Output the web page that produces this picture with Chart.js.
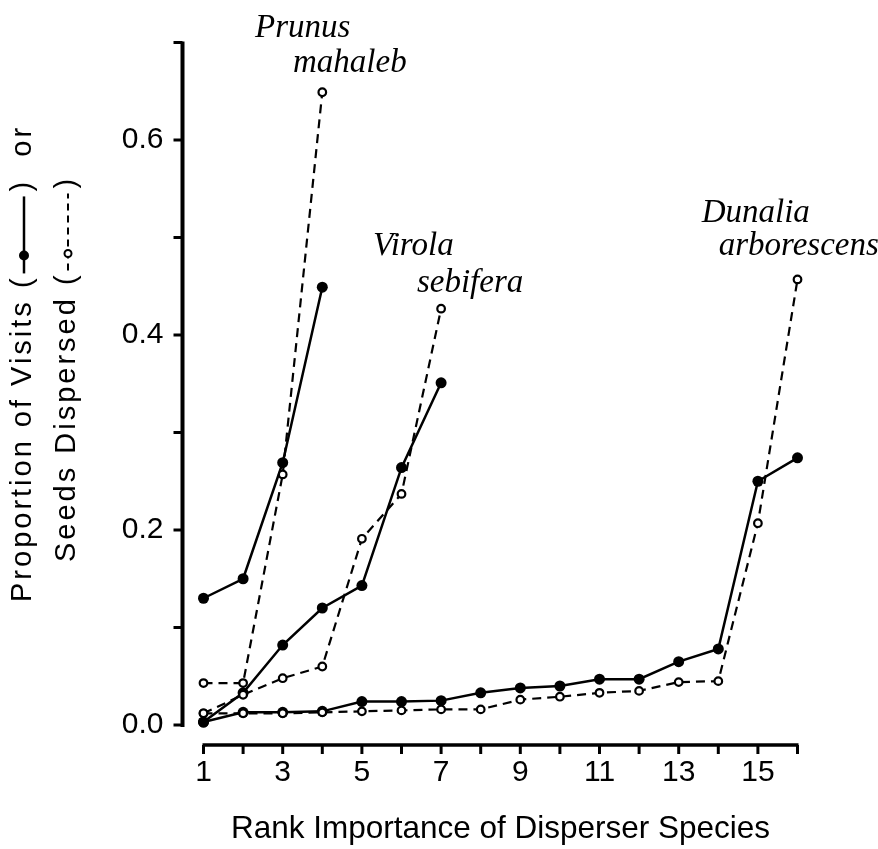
<!DOCTYPE html>
<html>
<head>
<meta charset="utf-8">
<script src="https://cdn.jsdelivr.net/npm/chart.js@4.4.1/dist/chart.umd.min.js"></script>
<style>
html,body{margin:0;padding:0;background:#fff;}
#wrap{width:878px;height:849px;}
</style>
</head>
<body>
<div id="wrap"><canvas id="chart" width="878" height="849"></canvas></div>
<script>
// rank of disperser species (x)
const rankX = [1,2,3,4,5,6,7,8,9,10,11,12,13,14,15,16];

// proportion of visits (solid) and of seeds dispersed (dashed), by species
const prunusVisits  = [0.130, 0.150, 0.269, 0.449];
const prunusSeeds   = [0.043, 0.043, 0.257, 0.649];
const virolaVisits  = [0.003, 0.033, 0.082, 0.120, 0.143, 0.264, 0.351];
const virolaSeeds   = [0.012, 0.031, 0.048, 0.060, 0.191, 0.237, 0.427];
const dunaliaVisits = [0.003, 0.013, 0.013, 0.014, 0.024, 0.024, 0.025, 0.033, 0.038, 0.040, 0.047, 0.047, 0.065, 0.078, 0.250, 0.274];
const dunaliaSeeds  = [0.012, 0.012, 0.012, 0.013, 0.014, 0.015, 0.016, 0.016, 0.026, 0.029, 0.033, 0.035, 0.044, 0.045, 0.207, 0.457];

// species names and where they sit, in data units (left edge, baseline)
const speciesLines = ["Prunus", "mahaleb", "Virola", "sebifera", "Dunalia", "arborescens"];
const speciesX     = [2.30, 3.26, 5.28, 6.39, 13.58, 14.01];
const speciesY     = [0.706, 0.670, 0.482, 0.444, 0.516, 0.482];

const SANS = '"Liberation Sans", Arial, Helvetica, sans-serif';
const SERIF = '"Liberation Serif", "Times New Roman", serif';

const toPts = ys => ys.map((y,i)=>({x: rankX[i], y: y}));

function solidSet(vals){
    return {
        data: toPts(vals),
        borderColor:"#000",
        borderWidth:2.5,
        pointRadius:5.5,
        pointBackgroundColor:"#000",
        pointBorderColor:"#000",
        pointBorderWidth:0,
        tension:0,
        clip:false,
        order:2
    };
}
function dashedSet(vals){
    return {
        data: toPts(vals),
        borderColor:"#000",
        borderWidth:2.2,
        borderDash:[9,6],
        pointRadius:3.8,
        pointBackgroundColor:"#fff",
        pointBorderColor:"#000",
        pointBorderWidth:2.2,
        tension:0,
        clip:false,
        order:1
    };
}

// axis lines sit a little away from the plot, as in the printed figure
const axesPlugin = {
    id:"axes",
    beforeDatasetsDraw(chart){
        const {ctx, scales:{x, y}} = chart;
        const ax = x.getPixelForValue(1) - 21;
        const ay = y.getPixelForValue(0) + 20;
        ctx.save();
        ctx.strokeStyle = "#000";
        ctx.lineCap = "butt";
        ctx.lineWidth = 4;
        ctx.beginPath();
        ctx.moveTo(ax, y.getPixelForValue(0.7) - 1);
        ctx.lineTo(ax, y.getPixelForValue(0) + 2);
        ctx.stroke();
        ctx.lineWidth = 3;
        y.ticks.forEach(t=>{
            const py = y.getPixelForValue(t.value);
            ctx.beginPath();
            ctx.moveTo(ax, py);
            ctx.lineTo(ax - 9, py);
            ctx.stroke();
        });
        ctx.lineWidth = 3.5;
        ctx.beginPath();
        ctx.moveTo(x.getPixelForValue(1) - 1, ay);
        ctx.lineTo(x.getPixelForValue(16) + 1, ay);
        ctx.stroke();
        ctx.lineWidth = 3;
        x.ticks.forEach(t=>{
            const px = x.getPixelForValue(t.value);
            ctx.beginPath();
            ctx.moveTo(px, ay);
            ctx.lineTo(px, ay + 9);
            ctx.stroke();
        });
        ctx.restore();
    }
};

function drawTitleLine(ctx, cx, startY, parts){
    ctx.save();
    ctx.translate(cx, startY);
    ctx.rotate(-Math.PI/2);
    ctx.font = "29px " + SANS;
    ctx.letterSpacing = "3px";
    ctx.fillStyle = "#000";
    ctx.strokeStyle = "#000";
    ctx.textBaseline = "middle";
    ctx.textAlign = "left";
    let u = 0;
    parts.forEach(p=>{
        if(typeof p === "string"){
            ctx.fillText(p, u, 0);
            u += ctx.measureText(p).width;
            return;
        }
        const v = 1;
        if(p.kind === "solid"){
            ctx.lineWidth = 2.5;
            ctx.setLineDash([]);
            ctx.beginPath();
            ctx.moveTo(u + 2, v);
            ctx.lineTo(u + 79, v);
            ctx.stroke();
            ctx.beginPath();
            ctx.arc(u + 20, v, 5, 0, Math.PI*2);
            ctx.fill();
        }else{
            ctx.lineWidth = 2;
            ctx.setLineDash([7,5]);
            ctx.beginPath();
            ctx.moveTo(u + 2, v);
            ctx.lineTo(u + 79, v);
            ctx.stroke();
            ctx.setLineDash([]);
            ctx.beginPath();
            ctx.arc(u + 19, v, 3.5, 0, Math.PI*2);
            ctx.fillStyle = "#fff";
            ctx.fill();
            ctx.stroke();
            ctx.fillStyle = "#000";
        }
        u += p.len;
    });
    ctx.restore();
}

const textPlugin = {
    id:"texts",
    afterDraw(chart){
        const {ctx, scales:{x, y}} = chart;
        drawTitleLine(ctx, 23, 602, ["Proportion of Visits (", {kind:"solid", len:84}, ")  or"]);
        drawTitleLine(ctx, 67, 562, ["Seeds Dispersed (", {kind:"dashed", len:84}, ")"]);
        ctx.save();
        ctx.font = "italic 33px " + SERIF;
        ctx.fillStyle = "#000";
        ctx.textAlign = "left";
        ctx.textBaseline = "alphabetic";
        speciesLines.forEach((s,i)=>{
            ctx.fillText(s, x.getPixelForValue(speciesX[i]), y.getPixelForValue(speciesY[i]));
        });
        ctx.restore();
    }
};

new Chart(document.getElementById("chart"), {
    type:"line",
    data:{
        datasets:[
            solidSet(prunusVisits), dashedSet(prunusSeeds),
            solidSet(virolaVisits), dashedSet(virolaSeeds),
            solidSet(dunaliaVisits), dashedSet(dunaliaSeeds)
        ]
    },
    options:{
        responsive:false,
        animation:false,
        devicePixelRatio:1,
        layout:{ padding:{ top:42.5, right:80.5, left:0, bottom:0 }, autoPadding:false },
        plugins:{ legend:{ display:false }, tooltip:{ enabled:false } },
        scales:{
            x:{
                type:"linear",
                min:1, max:16,
                afterFit(s){ s.height = 124; s.paddingLeft = 0; s.paddingRight = 0; },
                grid:{ display:false, drawTicks:false },
                border:{ display:false },
                ticks:{
                    stepSize:1, autoSkip:false, maxRotation:0, padding:30,
                    color:"#000", font:{ family:SANS, size:30 },
                    callback:v => (v % 2 === 1 ? String(v) : "")
                },
                title:{
                    display:true, text:"Rank Importance of Disperser Species",
                    color:"#000", font:{ family:SANS, size:31.5 },
                    padding:{ top:0, bottom:1 }
                }
            },
            y:{
                type:"linear",
                min:0, max:0.7,
                afterFit(s){ s.width = 203.5; s.paddingTop = 0; s.paddingBottom = 0; },
                grid:{ display:false, drawTicks:false },
                border:{ display:false },
                ticks:{
                    stepSize:0.1, padding:40,
                    color:"#000", font:{ family:SANS, size:30 },
                    callback:v => {
                        const k = Math.round(v*10);
                        return (k % 2 === 0 && k < 7) ? (k/10).toFixed(1) : "";
                    }
                }
            }
        }
    },
    plugins:[axesPlugin, textPlugin]
});
</script>
</body>
</html>
